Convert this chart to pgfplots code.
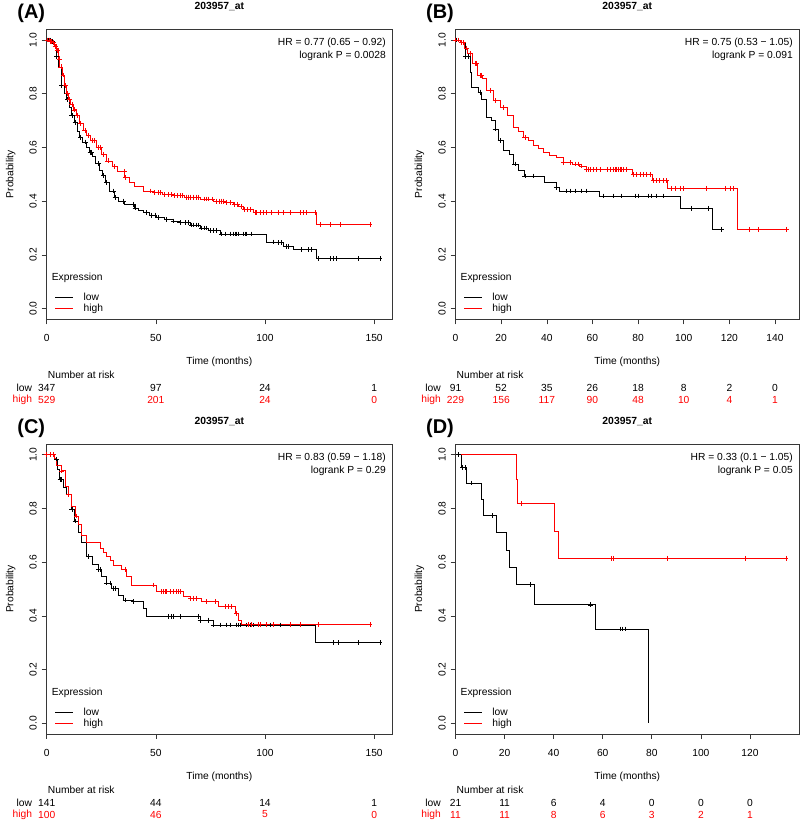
\documentclass[border=0pt]{standalone}
\usepackage{fontspec}
\setmainfont{Liberation Sans}
\usepackage{pgfplots}
\pgfplotsset{compat=1.18}
\definecolor{kmred}{RGB}{255,0,0}
\definecolor{boxgray}{RGB}{55,55,55}

\pgfplotsset{
  km/.style={
    scale only axis, height=290bp, clip=false,
    xmin=0, ymin=-0.04, ymax=1.04,
    ytick={0,0.2,0.4,0.6,0.8,1},
    axis line style={boxgray, line width=0.6bp},
    tick style={boxgray, line width=0.6bp},
    tick align=outside, major tick length=5bp,
    xtick pos=bottom, ytick pos=left,
    /pgf/number format/assume math mode=true,
    yticklabel style={/pgf/number format/fixed, /pgf/number format/fixed zerofill,
      /pgf/number format/precision=1,
      anchor=center, xshift=-8.5bp, rotate=90, inner sep=0pt},
    xticklabel style={anchor=center, yshift=-13.5bp, inner sep=0pt},
    legend image code/.code={\draw[##1, line width=0.7bp] (0bp,0bp) -- (18bp,0bp);},
    legend cell align=left,
    legend style={at={(0,0)}, anchor=south west, xshift=8bp, yshift=6bp,
      draw=none, fill=none, inner sep=0pt, row sep=2.2bp,
      nodes={inner sep=0pt},
      /tikz/every odd column/.append style={column sep=10bp}},
  },
  surv/.style={const plot, line width=0.7bp, mark=none},
  cens/.style={only marks, mark=+, mark size=2.4bp, line width=0.6bp},
}

% texts around one panel: label, HR line, logrank line
\newcommand\kmdecor[3]{%
  \node[inner sep=0pt, font=\bfseries\fontsize{20}{21}\selectfont] at ([xshift=-15.5bp,yshift=15.5bp]rel axis cs:0,1) {#1};
  \node[inner sep=0pt, font=\bfseries\fontsize{10.4}{12}\selectfont] at ([yshift=22.5bp]rel axis cs:0.5,1) {203957\_at};
  \node[inner sep=0pt, anchor=east] at ([xshift=-6bp,yshift=-13.7bp]rel axis cs:1,1) {#2};
  \node[inner sep=0pt, anchor=east] at ([xshift=-6bp,yshift=-26.7bp]rel axis cs:1,1) {#3};
  \node[inner sep=0pt, rotate=90] at ([xshift=-36bp]rel axis cs:0,0.5) {Probability};
  \node[inner sep=0pt] at ([yshift=-42.7bp]rel axis cs:0.5,0) {Time (months)};
  \node[inner sep=0pt, anchor=west] at ([xshift=1bp,yshift=-55.5bp]rel axis cs:0,0) {Number at risk};
  \node[inner sep=0pt, anchor=east] at ([xshift=-14.5bp,yshift=-68.5bp]rel axis cs:0,0) {low};
  \node[inner sep=0pt, anchor=east, text=kmred] at ([xshift=-14.5bp,yshift=-80.5bp]rel axis cs:0,0) {high};
  \node[inner sep=0pt, anchor=west] at ([xshift=5bp,yshift=41.5bp]rel axis cs:0,0) {Expression};
}
% number at risk at time #1: low #2, high #3
\newcommand\rk[3]{%
  \node[inner sep=0pt] at ([yshift=-68.5bp]axis cs:#1,-0.04) {#2};
  \node[inner sep=0pt, text=kmred] at ([yshift=-80.5bp]axis cs:#1,-0.04) {#3};
}

\begin{document}
\fontsize{10.3}{12}\selectfont
\begin{tikzpicture}
\path[use as bounding box] (0,0) rectangle (800bp,821bp);

% ---------------- (A)
\begin{axis}[km, at={(46.7bp,791.7bp)}, anchor=north west, width=345.3bp,
  xmax=158.2, xtick={0,50,100,150}]
  \addlegendimage{black}\addlegendentry{low}
  \addlegendimage{kmred}\addlegendentry{high}
  \addplot[surv, black, forget plot] coordinates {(0,1)(2,0.995)(3,0.985)(4.4,0.94)(5.5,0.90)(6.7,0.83)(8,0.80)(9,0.78)(10.5,0.75)(11.5,0.72)(12.8,0.694)(14,0.66)(15.1,0.638)(16.5,0.62)(18,0.60)(19.7,0.582)(21,0.565)(22.5,0.54)(24.3,0.513)(25.5,0.495)(27,0.47)(28.9,0.438)(31.2,0.413)(33,0.40)(35.8,0.388)(40,0.375)(42,0.365)(44.2,0.357)(47,0.348)(50.3,0.338)(54,0.332)(57.9,0.326)(61,0.32)(65.6,0.311)(70.2,0.30)(74,0.29)(79.4,0.278)(100.8,0.248)(104,0.245)(108.4,0.232)(113,0.22)(123.7,0.186)(152.8,0.186)};
  \addplot[cens, black, forget plot] coordinates {(0.8,1)(1.5,1)(2.5,0.995)(4.6,0.94)(6.9,0.83)(9.5,0.78)(11.5,0.72)(13,0.694)(15.5,0.638)(17.6,0.62)(19.8,0.582)(20.5,0.582)(23.7,0.54)(26,0.495)(27.5,0.47)(30.5,0.438)(31.3,0.413)(35.1,0.40)(39.7,0.388)(40.5,0.375)(45.8,0.357)(48.1,0.348)(49.6,0.348)(51.1,0.338)(55,0.332)(58,0.326)(61,0.32)(63.4,0.32)(64.9,0.32)(66.4,0.311)(67.2,0.311)(68.7,0.311)(69.5,0.311)(71,0.30)(72.3,0.30)(73.3,0.30)(74.8,0.29)(76.3,0.29)(77.9,0.29)(80.2,0.278)(81.7,0.278)(84,0.278)(85.5,0.278)(86.3,0.278)(87,0.278)(87.8,0.278)(90.1,0.278)(90.8,0.278)(91.6,0.278)(93.9,0.278)(103.8,0.248)(106.1,0.245)(107.5,0.245)(110,0.232)(110.7,0.232)(116.8,0.22)(119.8,0.22)(121.4,0.22)(124.5,0.186)(129.8,0.186)(131.3,0.186)(132.8,0.186)(142.7,0.186)(152.7,0.186)};
  \addplot[surv, kmred, forget plot] coordinates {(0,1.0)(1.5,0.995)(2.5,0.99)(3.5,0.975)(4.5,0.96)(5.5,0.93)(6,0.90)(7,0.87)(8,0.83)(9,0.80)(10,0.78)(11,0.76)(12,0.74)(13.5,0.72)(15,0.69)(16.7,0.663)(18,0.645)(20,0.625)(22.8,0.60)(25,0.575)(27.4,0.55)(30,0.53)(32.5,0.51)(35.8,0.488)(38,0.47)(40,0.455)(44.2,0.438)(48.8,0.432)(53,0.425)(57.9,0.42)(63,0.415)(70.2,0.408)(76.3,0.40)(82,0.395)(85.5,0.388)(88,0.38)(90.1,0.37)(94.7,0.358)(123.7,0.312)(149,0.312)};
  \addplot[cens, kmred, forget plot] coordinates {(0.5,1)(1,1)(1.7,0.995)(2.2,0.995)(2.8,0.99)(3.2,0.99)(3.8,0.975)(4.2,0.975)(4.8,0.96)(5.2,0.96)(5.7,0.93)(6.5,0.90)(7.5,0.87)(8.5,0.83)(9.5,0.80)(10.5,0.78)(11.5,0.76)(12.5,0.74)(14,0.72)(15.5,0.69)(17.5,0.663)(19,0.645)(21,0.625)(22,0.625)(23.5,0.60)(24.5,0.60)(26,0.575)(28,0.55)(31,0.53)(35.5,0.51)(36.2,0.488)(47.3,0.438)(49.5,0.432)(51,0.432)(52,0.432)(54,0.425)(55.5,0.425)(57,0.425)(58.5,0.42)(60,0.42)(61,0.42)(62,0.42)(64,0.415)(65,0.415)(66,0.415)(67,0.415)(68.5,0.415)(69.5,0.415)(72,0.408)(73,0.408)(74,0.408)(76,0.408)(77.5,0.40)(79,0.40)(80,0.40)(81,0.40)(82.5,0.395)(84,0.395)(86,0.388)(87.5,0.388)(89,0.38)(90.5,0.37)(92,0.37)(93.5,0.37)(95.4,0.358)(96.2,0.358)(97.7,0.358)(99.2,0.358)(100.8,0.358)(103.1,0.358)(106.1,0.358)(108.4,0.358)(111.5,0.358)(116,0.358)(117.6,0.358)(119.1,0.358)(122.9,0.358)(125.2,0.312)(129.8,0.312)(134.4,0.312)(148.1,0.312)};
  \kmdecor{(A)}{HR = 0.77 (0.65 − 0.92)}{logrank P = 0.0028}
  \rk{0}{347}{529}\rk{50}{97}{201}\rk{100}{24}{24}\rk{150}{1}{0}
\end{axis}

% ---------------- (B)
\begin{axis}[km, at={(455.5bp,791.7bp)}, anchor=north west, width=343.5bp,
  xmax=150.5, xtick={0,20,...,140}]
  \addlegendimage{black}\addlegendentry{low}
  \addlegendimage{kmred}\addlegendentry{high}
  \addplot[surv, black, forget plot] coordinates {(0,1)(2,0.99)(4.2,0.938)(6.4,0.881)(7.1,0.825)(10,0.806)(11.5,0.78)(13.6,0.713)(15.8,0.70)(17.3,0.669)(18.7,0.625)(20.9,0.588)(23.8,0.575)(25.3,0.538)(27.4,0.513)(30.3,0.494)(39.1,0.469)(44.2,0.45)(45.6,0.438)(63.1,0.419)(98.7,0.373)(112.5,0.295)(116.6,0.295)};
  \addplot[cens, black, forget plot] coordinates {(0.5,1)(4.4,0.938)(5.5,0.938)(10.7,0.806)(17.3,0.669)(19.5,0.625)(26,0.538)(30.4,0.494)(34.1,0.494)(44.2,0.45)(48.7,0.438)(50.1,0.438)(52.3,0.438)(55.3,0.438)(57.4,0.438)(64.7,0.419)(69.1,0.419)(72.8,0.419)(78.6,0.419)(80.1,0.419)(84.4,0.419)(85.9,0.419)(88.1,0.419)(91,0.419)(103.4,0.373)(110.7,0.373)(116.6,0.295)};
  \addplot[surv, kmred, forget plot] coordinates {(0,1)(2,0.99)(4,0.97)(5,0.95)(7.2,0.913)(9.4,0.869)(11.6,0.856)(13.7,0.813)(16.6,0.775)(19.6,0.75)(22.5,0.719)(25.4,0.675)(27.5,0.66)(29.7,0.638)(32,0.625)(34.1,0.607)(36.5,0.595)(38.4,0.582)(41,0.572)(44.3,0.563)(47.2,0.544)(51,0.538)(54.4,0.531)(57.3,0.519)(77.7,0.5)(86.4,0.476)(93,0.448)(123.5,0.295)(145,0.295)};
  \addplot[cens, kmred, forget plot] coordinates {(0,1)(1.2,1)(2.7,0.99)(3.4,0.99)(4.9,0.97)(6.4,0.95)(8.5,0.913)(9.3,0.913)(10.7,0.869)(11.5,0.869)(15.1,0.813)(17.3,0.775)(20.9,0.75)(30.4,0.638)(47.2,0.544)(50.1,0.544)(52.3,0.538)(53.8,0.538)(55.3,0.531)(57.4,0.519)(58.2,0.519)(58.9,0.519)(60.4,0.519)(61.9,0.519)(63.3,0.519)(66.3,0.519)(67.7,0.519)(69.2,0.519)(69.9,0.519)(70.6,0.519)(71.3,0.519)(72.1,0.519)(72.8,0.519)(73.5,0.519)(75,0.519)(77.9,0.5)(79.4,0.5)(80.8,0.5)(82.3,0.5)(83.7,0.5)(85.2,0.5)(86.6,0.476)(88.1,0.476)(89.5,0.476)(91,0.476)(92.5,0.476)(94.7,0.448)(96.2,0.448)(98.4,0.448)(99.8,0.448)(110,0.448)(118,0.448)(120.3,0.448)(121.7,0.448)(128.9,0.295)(132.6,0.295)(145,0.295)};
  \kmdecor{(B)}{HR = 0.75 (0.53 − 1.05)}{logrank P = 0.091}
  \rk{0}{91}{229}\rk{20}{52}{156}\rk{40}{35}{117}\rk{60}{26}{90}
  \rk{80}{18}{48}\rk{100}{8}{10}\rk{120}{2}{4}\rk{140}{0}{1}
\end{axis}

% ---------------- (C)
\begin{axis}[km, at={(46.7bp,377bp)}, anchor=north west, width=345.3bp,
  xmax=158.2, xtick={0,50,100,150}]
  \addlegendimage{black}\addlegendentry{low}
  \addlegendimage{kmred}\addlegendentry{high}
  \addplot[surv, black, forget plot] coordinates {(0,1)(3.5,0.984)(4.7,0.946)(6,0.909)(7.5,0.878)(9,0.853)(11.3,0.797)(12.8,0.753)(14.4,0.71)(15.9,0.672)(18.2,0.622)(21.1,0.591)(23.5,0.572)(25.1,0.547)(27.4,0.522)(29.7,0.503)(32.7,0.478)(35,0.459)(39.6,0.453)(44.2,0.428)(45.7,0.397)(70.2,0.384)(76.3,0.366)(122.9,0.30)(152.8,0.30)};
  \addplot[cens, black, forget plot] coordinates {(4.6,0.984)(6.1,0.909)(6.9,0.909)(9.9,0.853)(11.5,0.797)(13,0.753)(19.1,0.622)(23.7,0.572)(24.4,0.572)(27.5,0.522)(29,0.522)(30.5,0.503)(31.3,0.503)(35.9,0.459)(39.7,0.453)(55.7,0.397)(57.3,0.397)(58,0.397)(61.1,0.397)(69.5,0.397)(70.2,0.384)(74,0.384)(76.3,0.366)(79.4,0.366)(82.4,0.366)(84,0.366)(87,0.366)(87.8,0.366)(88.5,0.366)(91.6,0.366)(93.1,0.366)(94.7,0.366)(97.7,0.366)(100.8,0.366)(102.3,0.366)(106.9,0.366)(111.5,0.366)(116,0.366)(131.3,0.30)(133.6,0.30)(142.7,0.30)(152.7,0.30)};
  \addplot[surv, kmred, forget plot] coordinates {(0,1)(3.7,0.985)(4.5,0.96)(6.7,0.94)(8.4,0.884)(9.9,0.853)(11.5,0.809)(13,0.772)(14.5,0.741)(16,0.698)(18.3,0.672)(24.4,0.652)(26,0.635)(27.5,0.621)(29,0.605)(30.5,0.589)(34.4,0.573)(36.6,0.546)(38.9,0.515)(50.4,0.49)(62.6,0.474)(65.6,0.465)(71,0.453)(78.6,0.434)(86.3,0.41)(87.8,0.385)(89.3,0.368)(148.1,0.368)};
  \addplot[cens, kmred, forget plot] coordinates {(0,1)(1.5,1)(3,1)(6.9,0.94)(9.9,0.853)(13.7,0.772)(35.9,0.573)(48.9,0.515)(52.7,0.49)(53.4,0.49)(54.2,0.49)(55,0.49)(56.5,0.49)(58,0.49)(59.5,0.49)(60.3,0.49)(61.1,0.49)(65.9,0.465)(67.2,0.465)(68.7,0.465)(73.3,0.453)(77.1,0.453)(81.7,0.434)(83.2,0.434)(84.7,0.434)(87,0.41)(92.4,0.368)(93.9,0.368)(96.9,0.368)(97.7,0.368)(100.8,0.368)(103.8,0.368)(111.5,0.368)(116,0.368)(124.4,0.368)(148.1,0.368)};
  \kmdecor{(C)}{HR = 0.83 (0.59 − 1.18)}{logrank P = 0.29}
  \rk{0}{141}{100}\rk{50}{44}{46}\rk{100}{14}{5}\rk{150}{1}{0}
\end{axis}

% ---------------- (D)
\begin{axis}[km, at={(455.5bp,377bp)}, anchor=north west, width=343.5bp,
  xmax=140, xtick={0,20,...,120}]
  \addlegendimage{black}\addlegendentry{low}
  \addlegendimage{kmred}\addlegendentry{high}
  \addplot[surv, black, forget plot] coordinates {(0,1)(2.3,0.952)(4.3,0.895)(10.6,0.834)(11.3,0.774)(16.8,0.71)(20.9,0.645)(22,0.581)(24.6,0.516)(32.3,0.441)(57,0.351)(78.4,0)};
  \addplot[cens, black, forget plot] coordinates {(1.2,1)(2.9,0.952)(3.9,0.952)(6.6,0.895)(15.1,0.774)(30.3,0.516)(55,0.441)(67,0.351)(68,0.351)(69.1,0.351)};
  \addplot[surv, kmred, forget plot] coordinates {(0,1)(24.9,0.909)(25.2,0.818)(40.1,0.716)(41.9,0.614)(134.7,0.614)};
  \addplot[cens, kmred, forget plot] coordinates {(26.9,0.818)(63.5,0.614)(64.5,0.614)(86.2,0.614)(118.1,0.614)(134.7,0.614)};
  \kmdecor{(D)}{HR = 0.33 (0.1 − 1.05)}{logrank P = 0.05}
  \rk{0}{21}{11}\rk{20}{11}{11}\rk{40}{6}{8}\rk{60}{4}{6}
  \rk{80}{0}{3}\rk{100}{0}{2}\rk{120}{0}{1}
\end{axis}
\end{tikzpicture}
\end{document}
